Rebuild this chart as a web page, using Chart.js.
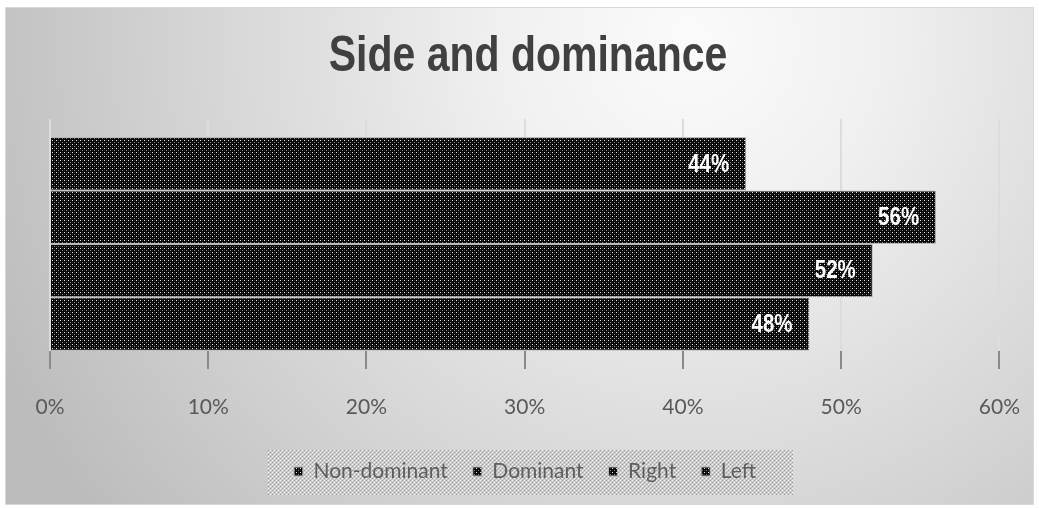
<!DOCTYPE html>
<html>
<head>
<meta charset="utf-8">
<script src="https://cdn.jsdelivr.net/npm/chart.js@4"></script>
<style>
  html, body { margin: 0; padding: 0; background: #ffffff; }
  #wrap { width: 1039px; height: 508px; position: relative; }
</style>
</head>
<body>
<div id="wrap"><canvas id="c" width="1039" height="508"></canvas></div>
<script>
// ---- data ----
const chartTitle = 'Side and dominance';
const categories = ['Side and dominance'];
// dataset order top -> bottom as drawn; legend is shown reversed (Excel style)
const seriesNames = ['Left', 'Right', 'Dominant', 'Non-dominant'];
const seriesValues = [44, 56, 52, 48];
const tickMin = 0;
const tickMax = 60;
const tickStep = 10;

// ---- patterns ----
function makePattern(size, base, dots) {
  const c = document.createElement('canvas');
  c.width = size; c.height = size;
  const g = c.getContext('2d');
  g.fillStyle = base; g.fillRect(0, 0, size, size);
  dots.forEach(d => { g.fillStyle = d[2]; g.fillRect(d[0], d[1], 1, 1); });
  return g.createPattern(c, 'repeat');
}
const barPattern = makePattern(4, '#080808', [[0,0,'#e8e8e8'],[2,2,'#8a8a8a'],[2,0,'#2a2a2a'],[0,2,'#2a2a2a']]);
const legendPattern = makePattern(4, '#cfcfcf', [[0,0,'#f4f4f4'],[2,0,'#9a9a9a'],[0,2,'#9a9a9a'],[2,2,'#f4f4f4'],[1,1,'#bdbdbd'],[3,3,'#bdbdbd']]);

const CAT_PCT = 0.855;
const NARROW = 0.82;
const SANS = '"Liberation Sans", Arial, sans-serif';

const bgPlugin = {
  id: 'bgPlugin',
  beforeDraw(chart) {
    const ctx = chart.ctx;
    ctx.save();
    ctx.fillStyle = '#ffffff';
    ctx.fillRect(0, 0, chart.width, chart.height);
    const g = ctx.createRadialGradient(690, 40, 0, 690, 40, 760);
    g.addColorStop(0, '#fbfbfb');
    g.addColorStop(0.25, '#f0f0f0');
    g.addColorStop(0.6, '#d8d8d8');
    g.addColorStop(1, '#bcbcbc');
    ctx.fillStyle = g;
    ctx.fillRect(5, 7, 1029, 498);
    ctx.strokeStyle = '#d9d9d9';
    ctx.lineWidth = 1;
    ctx.strokeRect(5.5, 7.5, 1028, 497);
    // legend box
    const lg = chart.legend;
    if (lg && lg.legendHitBoxes && lg.legendHitBoxes.length) {
      const hb = lg.legendHitBoxes;
      let minX = Infinity, maxX = -Infinity, cy = 0;
      hb.forEach(h => { minX = Math.min(minX, h.left); maxX = Math.max(maxX, h.left + h.width); cy = h.top + h.height / 2; });
      const x0 = Math.round(minX - 27), x1 = Math.round(maxX + 37);
      ctx.fillStyle = legendPattern;
      ctx.fillRect(x0, Math.round(cy - 22), x1 - x0, 45);
    }
    ctx.restore();
  }
};

// draws the title and value labels in a condensed bold face
const textPlugin = {
  id: 'textPlugin',
  afterDatasetsDraw(chart) {
    const ctx = chart.ctx;
    ctx.save();
    ctx.fillStyle = '#ffffff';
    ctx.font = 'bold 25px ' + SANS;
    ctx.textAlign = 'right';
    ctx.textBaseline = 'middle';
    chart.data.datasets.forEach((ds, i) => {
      const meta = chart.getDatasetMeta(i);
      meta.data.forEach((bar, j) => {
        ctx.save();
        ctx.translate(bar.x - 17, bar.y + 1);
        ctx.scale(NARROW, 1);
        ctx.fillText(ds.data[j] + '%', 0, 0);
        ctx.restore();
      });
    });
    ctx.restore();
  },
  afterDraw(chart) {
    const ctx = chart.ctx;
    const tb = chart.titleBlock;
    const cy = tb.top + 20 + 31;
    const cx = 528;
    ctx.save();
    ctx.translate(cx, cy);
    ctx.scale(NARROW, 1);
    ctx.fillStyle = '#404040';
    ctx.font = 'bold 50px ' + SANS;
    ctx.textAlign = 'center';
    ctx.textBaseline = 'middle';
    ctx.fillText(chart.options.plugins.title.text, 0, 0);
    ctx.restore();
  }
};

const datasets = seriesNames.map((name, i) => ({
  label: name,
  data: [seriesValues[i]],
  backgroundColor: barPattern,
  borderColor: '#b8b8b8',
  borderWidth: 1,
  barPercentage: 1,
  categoryPercentage: CAT_PCT
}));

new Chart(document.getElementById('c'), {
  type: 'bar',
  data: { labels: categories, datasets },
  plugins: [bgPlugin, textPlugin],
  options: {
    responsive: false,
    animation: false,
    indexAxis: 'y',
    layout: { padding: { top: 6, left: 50, right: 39, bottom: 16 } },
    plugins: {
      title: {
        display: true,
        text: chartTitle,
        color: 'rgba(0,0,0,0)',
        font: { family: SANS, size: 50, weight: 'bold' },
        padding: { top: 20, bottom: 33 }
      },
      legend: {
        display: true,
        position: 'bottom',
        reverse: true,
        labels: {
          boxWidth: 9,
          boxHeight: 9,
          padding: 25,
          color: '#5f5f5f',
          font: { family: 'Lato, sans-serif', size: 21 }
        }
      },
      tooltip: { enabled: false }
    },
    scales: {
      x: {
        min: tickMin,
        max: tickMax,
        ticks: {
          stepSize: tickStep,
          padding: 19,
          color: '#595959',
          font: { family: 'Lato, sans-serif', size: 21, lineHeight: 1.8667 },
          callback: v => v + '%'
        },
        border: { display: false },
        grid: {
          drawTicks: false,
          lineWidth: 2,
          color: (ctx) => {
            const chart = ctx.chart;
            const a = chart.chartArea;
            if (!a) return '#d9d9d9';
            const g = chart.ctx.createLinearGradient(0, a.top, 0, a.bottom);
            const s = 0.5 + CAT_PCT / 2;
            g.addColorStop(0, '#dcdcdc');
            g.addColorStop(s, '#dcdcdc');
            g.addColorStop(Math.min(1, s + 0.001), '#8a8a8a');
            g.addColorStop(1, '#8a8a8a');
            return g;
          }
        },
        afterFit: (scale) => { scale.height = scale.height - 10; }
      },
      y: {
        display: false
      }
    }
  }
});
</script>
</body>
</html>
